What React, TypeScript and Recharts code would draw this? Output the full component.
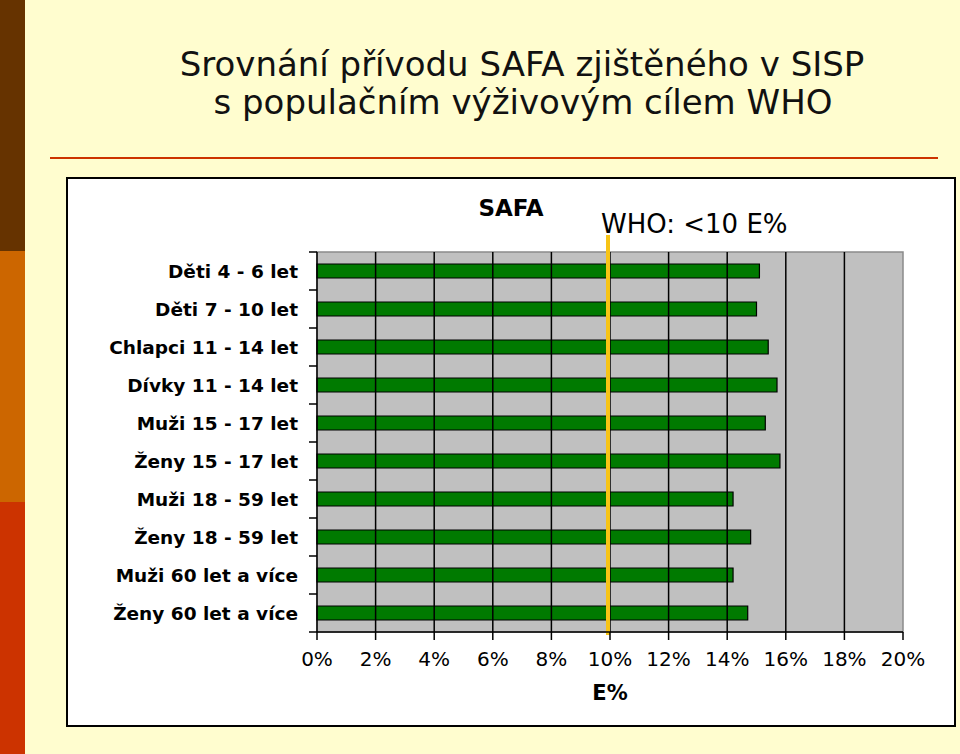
import React from 'react';
import { BarChart, Bar, XAxis, YAxis, CartesianGrid, ReferenceLine, ReferenceArea } from 'recharts';

const categories = [
  'Děti 4 - 6 let',
  'Děti 7 - 10 let',
  'Chlapci 11 - 14 let',
  'Dívky 11 - 14 let',
  'Muži 15 - 17 let',
  'Ženy 15 - 17 let',
  'Muži 18 - 59 let',
  'Ženy 18 - 59 let',
  'Muži 60 let a více',
  'Ženy 60 let a více',
];
const safaValues = [15.1, 15.0, 15.4, 15.7, 15.3, 15.8, 14.2, 14.8, 14.2, 14.7];
const xTicks = [0, 2, 4, 6, 8, 10, 12, 14, 16, 18, 20];
const whoLimit = 10;

const data = categories.map((name, i) => ({ name, safa: safaValues[i] }));
const gridTicks = xTicks.filter((t) => t > 0 && t < 20);

const FONT = '"DejaVu Sans", Verdana, sans-serif';
const TICK_MARGIN = 11;
const TICK_SIZE = 8;

const YTick = (props: any) => {
  const { x, y, payload, index, visibleTicksCount } = props;
  const half = payload && payload.offset ? payload.offset : 19;
  const lx2 = x + TICK_MARGIN + TICK_SIZE;
  const lx1 = x + TICK_MARGIN;
  const last = index === (visibleTicksCount ?? categories.length) - 1;
  return (
    <g>
      <line x1={lx1} x2={lx2} y1={y - half} y2={y - half} stroke="#000" strokeWidth={1.5} />
      {last && <line x1={lx1} x2={lx2} y1={y + half} y2={y + half} stroke="#000" strokeWidth={1.5} />}
      <text x={x} y={y} dy="0.36em" textAnchor="end" fontFamily={FONT} fontWeight="bold" fontSize={18.5} fill="#000">
        {payload.value}
      </text>
    </g>
  );
};

export default function App() {
  return (
    <div style={{ position: 'fixed', left: 0, top: 0, width: 960, height: 754, background: '#FFFDCF', overflow: 'hidden' }}>
      <div style={{ position: 'absolute', left: 0, top: 0, width: 25, height: 251, background: '#663300' }} />
      <div style={{ position: 'absolute', left: 0, top: 251, width: 25, height: 251, background: '#CC6600' }} />
      <div style={{ position: 'absolute', left: 0, top: 502, width: 25, height: 252, background: '#CC3300' }} />
      <div style={{ position: 'absolute', left: 50, top: 157, width: 888, height: 2, background: '#CC3300' }} />
      <div style={{ position: 'absolute', left: 66, top: 177, width: 890, height: 550, border: '2px solid #000', boxSizing: 'border-box', background: '#fff' }} />
      <svg width={960} height={754} style={{ position: 'absolute', left: 0, top: 0 }}>
        <text x={522} y={76} textAnchor="middle" fontFamily={FONT} fontSize={34} fill="#111">
          Srovnání přívodu SAFA zjištěného v SISP
        </text>
        <text x={523} y={114} textAnchor="middle" fontFamily={FONT} fontSize={34} fill="#111">
          s populačním výživovým cílem WHO
        </text>
        <text x={511} y={216} textAnchor="middle" fontFamily={FONT} fontWeight="bold" fontSize={23} fill="#000">
          SAFA
        </text>
        <text x={601} y={233} fontFamily={FONT} fontSize={26} fill="#000">
          WHO: &lt;10 E%
        </text>
      </svg>
      <div style={{ position: 'absolute', left: 67, top: 178 }}>
        <BarChart
          width={888}
          height={548}
          data={data}
          layout="vertical"
          margin={{ top: 74, right: 52, bottom: 14, left: 0 }}
          barCategoryGap={0}
        >
          <CartesianGrid horizontal={false} vertical={false} fill="#C0C0C0" />
          <ReferenceArea x1={0} x2={20} fill="none" stroke="#8a8a8a" strokeWidth={1.5} fillOpacity={0} />
          {gridTicks.map((t) => (
            <ReferenceLine key={t} x={t} stroke="#000" strokeWidth={1.5} />
          ))}
          <XAxis
            type="number"
            domain={[0, 20]}
            ticks={xTicks}
            interval={0}
            tickFormatter={(v: number) => `${v}%`}
            tickSize={TICK_SIZE}
            tickMargin={12}
            height={80}
            axisLine={{ stroke: '#000', strokeWidth: 1.5 }}
            tickLine={{ stroke: '#000', strokeWidth: 1.5 }}
            tick={{ fontFamily: FONT, fontSize: 20, fill: '#000' }}
            label={{ value: 'E%', position: 'insideBottom', offset: 12, fontFamily: FONT, fontWeight: 'bold', fontSize: 21, fill: '#000' }}
          />
          <YAxis
            type="category"
            dataKey="name"
            width={250}
            interval={0}
            tickSize={TICK_SIZE}
            tickMargin={TICK_MARGIN}
            tickLine={false}
            axisLine={{ stroke: '#000', strokeWidth: 1.5 }}
            tick={<YTick />}
          />
          <Bar dataKey="safa" barSize={14} fill="#007A00" stroke="#000" strokeWidth={1.2} isAnimationActive={false} />
          <ReferenceLine
            x={whoLimit}
            ifOverflow="visible"
            shape={(p: any) => (
              <line x1={p.x1 - 2} x2={p.x2 - 2} y1={Math.min(p.y1, p.y2) - 17} y2={Math.max(p.y1, p.y2) + 3} stroke="#F7C416" strokeWidth={4} />
            )}
          />
        </BarChart>
      </div>
    </div>
  );
}
